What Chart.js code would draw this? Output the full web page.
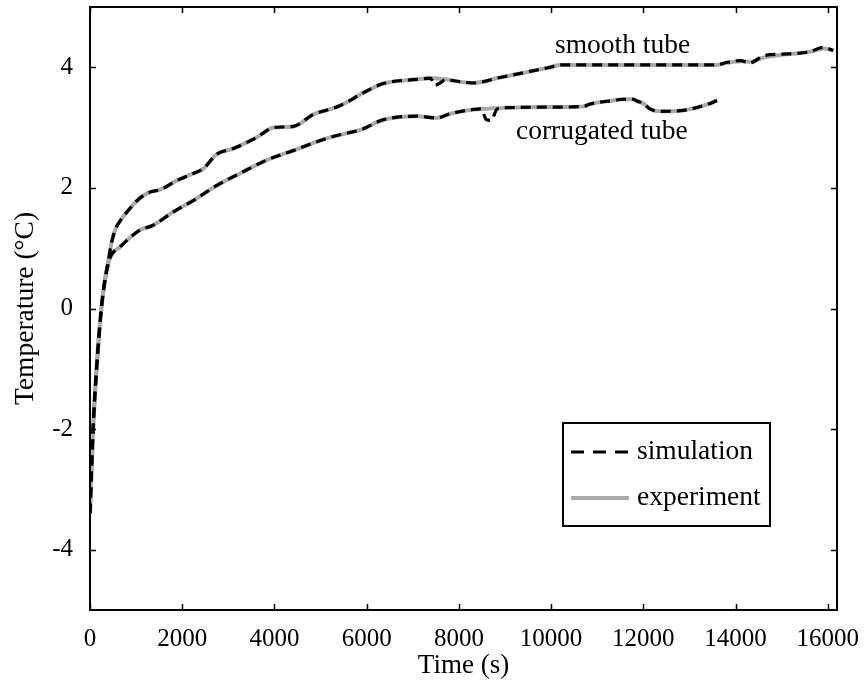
<!DOCTYPE html>
<html>
<head>
<meta charset="utf-8">
<script src="https://cdn.jsdelivr.net/npm/chart.js@4.4.1/dist/chart.umd.min.js"></script>
<style>
  html, body { margin: 0; padding: 0; background: #fff; }
  #wrap { width: 867px; height: 691px; }
</style>
</head>
<body>
<div id="wrap"><canvas id="c" width="867" height="691"></canvas></div>
<script>
// Time axis ticks and temperature ticks
const xTicks = [0, 2000, 4000, 6000, 8000, 10000, 12000, 14000, 16000];
const yTicks = [-4, -2, 0, 2, 4];

// Smooth tube: time (s), measured and simulated temperature (°C)
const smoothTime = [0, 70, 145, 250, 330, 400, 470, 560, 650, 800, 1080, 1300, 1520, 1880, 2240, 2460, 2750, 3100, 3620, 3980, 4410, 4850, 5350, 5640, 5860, 6360, 7090, 7380, 7480, 7590, 7700, 8310, 8890, 9470, 9980, 10200, 11500, 12500, 13600, 13800, 14100, 14310, 14600, 15030, 15320, 15620, 15900, 16120];
const smoothExp  = [-3.4, -1.95, -0.97, 0.03, 0.5, 0.8, 1.1, 1.33, 1.45, 1.6, 1.83, 1.93, 1.97, 2.12, 2.24, 2.32, 2.56, 2.65, 2.84, 3.0, 3.02, 3.22, 3.34, 3.45, 3.55, 3.73, 3.8, 3.82, 3.82, 3.81, 3.8, 3.74, 3.83, 3.92, 4.0, 4.04, 4.04, 4.04, 4.04, 4.07, 4.1, 4.09, 4.16, 4.21, 4.23, 4.26, 4.31, 4.28];
const smoothSim  = [-3.4, -1.95, -0.97, 0.03, 0.5, 0.8, 1.1, 1.33, 1.45, 1.6, 1.83, 1.93, 1.97, 2.12, 2.24, 2.32, 2.56, 2.65, 2.84, 3.0, 3.02, 3.22, 3.34, 3.45, 3.55, 3.73, 3.8, 3.82, 3.7, 3.74, 3.79, 3.74, 3.83, 3.92, 4.0, 4.04, 4.04, 4.04, 4.04, 4.08, 4.11, 4.07, 4.19, 4.22, 4.23, 4.26, 4.33, 4.28];

// Corrugated tube: time (s), measured and simulated temperature (°C)
const corrTime = [0, 70, 145, 250, 330, 400, 450, 650, 800, 1080, 1370, 1800, 2240, 2750, 3250, 3830, 4410, 5130, 5640, 5860, 6360, 7090, 7520, 7810, 8310, 8480, 8600, 8700, 8830, 9040, 9980, 10700, 10840, 11350, 11570, 11780, 11860, 12000, 12145, 12360, 12800, 13375, 13600];
const corrExp  = [-3.4, -1.95, -0.97, 0.03, 0.5, 0.75, 0.87, 1.02, 1.13, 1.3, 1.38, 1.6, 1.79, 2.04, 2.24, 2.46, 2.62, 2.82, 2.92, 2.96, 3.13, 3.19, 3.16, 3.23, 3.3, 3.31, 3.31, 3.32, 3.32, 3.33, 3.34, 3.35, 3.39, 3.45, 3.47, 3.47, 3.44, 3.4, 3.31, 3.27, 3.28, 3.38, 3.45];
const corrSim  = [-3.4, -1.95, -0.97, 0.03, 0.5, 0.75, 0.87, 1.02, 1.13, 1.3, 1.38, 1.6, 1.79, 2.04, 2.24, 2.46, 2.62, 2.82, 2.92, 2.96, 3.13, 3.19, 3.16, 3.23, 3.3, 3.31, 3.13, 3.12, 3.31, 3.33, 3.34, 3.35, 3.39, 3.45, 3.47, 3.47, 3.44, 3.4, 3.31, 3.27, 3.28, 3.38, 3.45];

const seriesNames = ['simulation', 'experiment'];
const curveLabels = ['smooth tube', 'corrugated tube'];

const FONT = "'Liberation Serif', 'Times New Roman', serif";
const toPts = (t, v) => t.map((x, i) => ({ x: x, y: v[i] }));

const expStyle = { borderColor: '#aaaaaa', borderWidth: 4, borderDash: [] };
const simStyle = { borderColor: '#000000', borderWidth: 3.2, borderDash: [10, 6] };

function ds(label, pts, style, order) {
  return Object.assign({
    label: label, data: pts, order: order, fill: false,
    pointRadius: 0, pointHoverRadius: 0,
    cubicInterpolationMode: 'monotone', borderCapStyle: 'butt'
  }, style);
}

// Scales keep a fixed size and no label overhang padding
function fixBox(size, horizontal) {
  return s => {
    if (horizontal) { s.height = size; } else { s.width = size; }
    s.paddingTop = 0; s.paddingBottom = 0; s.paddingLeft = 0; s.paddingRight = 0;
  };
}

// Frame, inward ticks, curve labels and legend box
const decorations = {
  id: 'decorations',
  afterDraw(chart) {
    const ctx = chart.ctx;
    const a = chart.chartArea;
    const xs = chart.scales.x, ys = chart.scales.y;
    ctx.save();
    ctx.strokeStyle = '#000';
    ctx.lineWidth = 2;
    ctx.strokeRect(a.left, a.top, a.right - a.left, a.bottom - a.top);
    const tl = 6;
    ctx.lineWidth = 1.5;
    ctx.beginPath();
    xTicks.forEach(t => {
      const px = Math.round(xs.getPixelForValue(t)) + 0.5;
      ctx.moveTo(px, a.bottom); ctx.lineTo(px, a.bottom - tl);
      ctx.moveTo(px, a.top); ctx.lineTo(px, a.top + tl);
    });
    yTicks.forEach(v => {
      const py = Math.round(ys.getPixelForValue(v)) + 0.5;
      ctx.moveTo(a.left, py); ctx.lineTo(a.left + tl, py);
      ctx.moveTo(a.right, py); ctx.lineTo(a.right - tl, py);
    });
    ctx.stroke();

    // Curve labels
    ctx.fillStyle = '#000';
    ctx.font = '27.5px ' + FONT;
    ctx.textAlign = 'center';
    ctx.textBaseline = 'middle';
    ctx.fillText(curveLabels[0], xs.getPixelForValue(11550), ys.getPixelForValue(4.36));
    ctx.fillText(curveLabels[1], xs.getPixelForValue(11100), ys.getPixelForValue(2.93));

    // Legend
    const lx = a.left + 473, ly = a.top + 416, lw = 207, lh = 103;
    ctx.lineWidth = 2;
    ctx.strokeStyle = '#000';
    ctx.strokeRect(lx, ly, lw, lh);
    const rows = [
      { y: ly + 29, style: simStyle, dash: [13, 9], text: seriesNames[0] },
      { y: ly + 75, style: expStyle, dash: [], text: seriesNames[1] }
    ];
    rows.forEach(r => {
      ctx.beginPath();
      ctx.setLineDash(r.dash);
      ctx.strokeStyle = r.style.borderColor;
      ctx.lineWidth = r.style.borderWidth;
      ctx.moveTo(lx + 8, r.y);
      ctx.lineTo(lx + 66, r.y);
      ctx.stroke();
      ctx.setLineDash([]);
      ctx.fillStyle = '#000';
      ctx.textAlign = 'left';
      ctx.font = '27.5px ' + FONT;
      ctx.fillText(r.text, lx + 74, r.y);
    });
    ctx.restore();
  }
};

new Chart(document.getElementById('c'), {
  type: 'line',
  data: {
    datasets: [
      ds(seriesNames[0], toPts(smoothTime, smoothSim), simStyle, 0),
      ds(seriesNames[0], toPts(corrTime, corrSim), simStyle, 0),
      ds(seriesNames[1], toPts(smoothTime, smoothExp), expStyle, 1),
      ds(seriesNames[1], toPts(corrTime, corrExp), expStyle, 1)
    ]
  },
  options: {
    responsive: false,
    animation: false,
    events: [],
    layout: { autoPadding: false, padding: { top: 7, right: 30, left: 0, bottom: 0 } },
    plugins: { legend: { display: false }, tooltip: { enabled: false } },
    scales: {
      x: {
        type: 'linear', min: 0, max: 16200,
        afterBuildTicks: s => { s.ticks = xTicks.map(v => ({ value: v })); },
        afterFit: fixBox(81, true),
        grid: { display: false, drawTicks: false },
        border: { display: false },
        ticks: { includeBounds: false, maxRotation: 0, autoSkip: false, padding: 14,
                 color: '#000', font: { family: FONT, size: 25 },
                 callback: v => String(v) },
        title: { display: true, text: 'Time (s)', color: '#000',
                 font: { family: FONT, size: 27 }, padding: { top: 0, bottom: 9 } }
      },
      y: {
        type: 'linear', min: -5, max: 5,
        afterBuildTicks: s => { s.ticks = yTicks.map(v => ({ value: v })); },
        afterFit: fixBox(90, false),
        grid: { display: false, drawTicks: false },
        border: { display: false },
        ticks: { includeBounds: false, autoSkip: false, padding: 17,
                 color: '#000', font: { family: FONT, size: 25 },
                 callback: v => String(v) },
        title: { display: true, text: 'Temperature (°C)', color: '#000',
                 font: { family: FONT, size: 27.5 }, padding: { top: 9, bottom: 0 } }
      }
    }
  },
  plugins: [decorations]
});
</script>
</body>
</html>
